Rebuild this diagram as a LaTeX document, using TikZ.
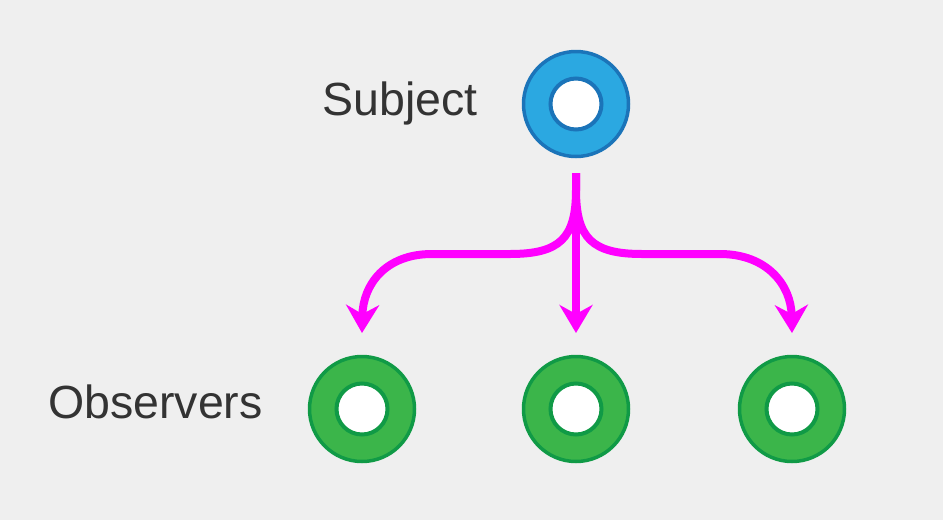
\documentclass[tikz,border=0pt]{standalone}
\usepackage{fontspec}
\setmainfont{Liberation Sans}
\usetikzlibrary{arrows.meta}
\definecolor{bg}{HTML}{EFEFEF}
\definecolor{subjfill}{HTML}{2BA8E1}
\definecolor{subjline}{HTML}{1B74B9}
\definecolor{obsfill}{HTML}{3BB54A}
\definecolor{obsline}{HTML}{109A46}
\definecolor{arrowcol}{HTML}{FF00FF}
\definecolor{txt}{HTML}{333333}
\tikzset{
  ring/.style={circle, inner sep=0pt, minimum size=105pt, line width=3.5pt},
  subjring/.style={ring, fill=subjfill, draw=subjline},
  obsring/.style={ring, fill=obsfill, draw=obsline},
  hole/.style={circle, inner sep=0pt, minimum size=51pt, line width=4pt, fill=white},
  label/.style={font=\fontsize{46.5}{56}\selectfont, text=txt, inner sep=0pt},
  flow/.style={draw=arrowcol, line width=8pt, -{Stealth[length=28pt,width=33pt,inset=9pt]}}
}
\begin{document}
\begin{tikzpicture}[x=1pt,y=-1pt]
\fill[bg] (0,0) rectangle (943,520);
\useasboundingbox (0,0) rectangle (943,520);

\node[subjring] (subj) at (576,104) {};
\node[hole, draw=subjline] (subjhole) at (576,104) {};
\node[label, anchor=base east] (subjlabel) at (478,115) {Subject};

\node[obsring] (obsA) at (362,409) {};
\node[hole, draw=obsline] (obsAhole) at (362,409) {};
\node[obsring] (obsB) at (576,409) {};
\node[hole, draw=obsline] (obsBhole) at (576,409) {};
\node[obsring] (obsC) at (792,409) {};
\node[hole, draw=obsline] (obsChole) at (792,409) {};
\node[label, anchor=base west] (obslabel) at (48,418) {Observers};

\coordinate (src) at (576,173);
\coordinate (tipA) at (362,333);
\coordinate (tipB) at (576,333);
\coordinate (tipC) at (792,333);

\draw[flow] (src) -- (576,190) .. controls (576,238) and (560,254) .. (510,254) -- (432,254) .. controls (385,254) and (363,285) .. (tipA);
\draw[flow] (src) -- (576,190) .. controls (576,238) and (592,254) .. (642,254) -- (720,254) .. controls (767,254) and (791,285) .. (tipC);
\draw[flow] (src) -- (tipB);
\end{tikzpicture}
\end{document}
